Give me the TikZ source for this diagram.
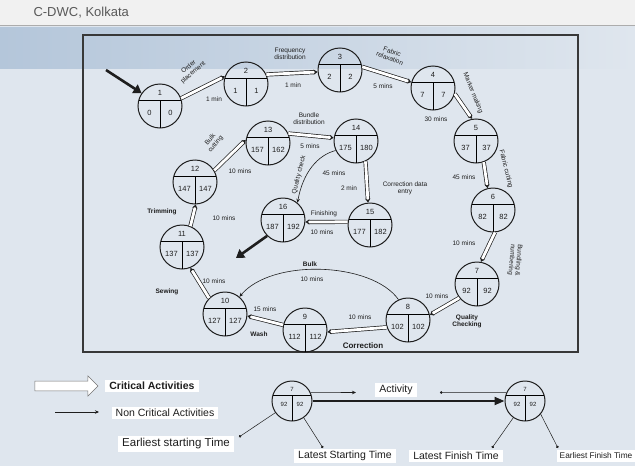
\documentclass[tikz,border=0pt]{standalone}
\usepackage{fontspec}
\setmainfont{Liberation Sans}
\usetikzlibrary{arrows.meta,shapes.arrows}
\definecolor{slidebg}{HTML}{DFE6EE}
\definecolor{bandblue}{HTML}{B4C6DA}
\definecolor{barbg}{HTML}{F1F1F1}
\definecolor{framegray}{HTML}{383838}
\definecolor{ink}{HTML}{1E1E1E}
\tikzset{
  event/.style={circle,draw=ink,line width=1pt,minimum size=44pt,inner sep=0pt},
  crit/.style={draw=ink,line width=0.7pt,double=white,double distance=2.8pt,-{Stealth[length=4pt,width=5pt]}},
  noncrit/.style={draw=ink,line width=0.6pt,-{Stealth[length=4pt,width=3.5pt]}},
  bigarrow/.style={draw=ink,line width=2.6pt,-{Triangle[length=8pt,width=10pt]}},
  num/.style={font=\fontsize{7.5}{8}\selectfont,inner sep=0pt,text=ink},
  dur/.style={font=\fontsize{6.5}{7}\selectfont,inner sep=0.5pt,align=center,text=ink},
  act/.style={font=\fontsize{6.5}{7}\selectfont\bfseries,inner sep=0.5pt,align=center,text=ink},
  tag/.style={fill=white,font=\fontsize{10.5}{12}\selectfont,inner xsep=4pt,inner ysep=2.5pt,text=ink},
  pointer/.style={draw=ink,line width=0.5pt,-{Circle[length=2.6pt]}},
}
\begin{document}
\begin{tikzpicture}[x=1pt,y=-1pt]
\useasboundingbox (0,0) rectangle (635,466);
\fill[slidebg] (0,0) rectangle (635,466);
\shade[left color=bandblue,right color=slidebg] (0,27) rectangle (635,68);
\fill[barbg] (0,0) rectangle (635,25);
\draw[gray!65,line width=1.2pt] (0,25.5) -- (635,25.5);
\node[anchor=west,font=\fontsize{13}{15}\selectfont,text=black!65] (title) at (30,13) {C-DWC, Kolkata};
\draw[framegray,line width=1.6pt] (83,35) rectangle (578,352);

\foreach \n/\px/\py/\es/\ls in {1/160/106/0/0, 2/246/84/1/1, 3/340/70/2/2, 4/433/88/7/7,
    5/476/141/37/37, 6/493/210/82/82, 7/477/284/92/92, 8/408/320/102/102,
    9/305/330/112/112, 10/225/314/127/127, 11/182/247/137/137, 12/195/182/147/147,
    13/268/143/157/162, 14/356/141/175/180, 15/370/225/177/182, 16/283/220/187/192}{
  \node[event] (e\n) at (\px,\py) {};
  \draw[line width=0.8pt] ([shift={(-21.1,-6)}]e\n.center) -- ([shift={(21.1,-6)}]e\n.center);
  \draw[line width=0.8pt] ([shift={(0,-6)}]e\n.center) -- ([shift={(0,22)}]e\n.center);
  \node[num] (i\n) at ([shift={(0,-13.5)}]e\n.center) {\n};
  \node[num] (es\n) at ([shift={(-10.5,6.5)}]e\n.center) {\es};
  \node[num] (ls\n) at ([shift={(10.5,6.5)}]e\n.center) {\ls};
}

\foreach \a/\p/\b/\q in {1/20/2/160, 2/25/3/185, 3/8/4/165, 4/-15/5/100, 5/-70/6/104,
    6/-85/7/80, 7/218/8/13, 8/199/9/-5, 9/167/10/-5, 10/135/11/-68, 11/68/12/-88,
    12/31/13/172, 13/25/14/172, 14/-65/15/95, 15/172/16/-5}
  \draw[crit] (e\a.\p) -- (e\b.\q);

\draw[noncrit] (e8.115) .. controls (372,262) and (272,258) .. (e10.50);
\draw[noncrit] (e14.205) .. controls (318,155) and (303,172) .. (e16.50);

\coordinate (entry) at (106,70);
\draw[bigarrow] (entry) -- (e1.145);
\coordinate (exit) at (236,258);
\draw[bigarrow] (e16.225) -- (exit);

\node[dur,rotate=40] (n12) at (191,70) {Order\\placement};
\node[dur] (t12) at (214,99) {1 min};
\node[dur] (n23) at (290,54) {Frequency\\distribution};
\node[dur] (t23) at (293,85) {1 min};
\node[dur,rotate=-20] (n34) at (391,55) {Fabric\\relaxation};
\node[dur] (t34) at (383,86) {5 mins};
\node[dur,rotate=-68] (n45) at (473,93) {Marker making};
\node[dur] (t45) at (436,119) {30 mins};
\node[dur,rotate=-76] (n56) at (506,169) {Fabric cutting};
\node[dur] (t56) at (464,177) {45 mins};
\node[dur,rotate=-95] (n67) at (515,260) {Bundling \&\\numbering};
\node[dur] (t67) at (464,243) {10 mins};
\node[dur] (t78) at (437,296) {10 mins};
\node[act] (n78) at (467,321) {Quality\\Checking};
\node[dur] (t89) at (360,317) {10 mins};
\node[act,font=\fontsize{8}{9}\selectfont\bfseries] (n89) at (363,346) {Correction};
\node[dur] (t910) at (265,309) {15 mins};
\node[act] (n910) at (259,334) {Wash};
\node[act] (n810) at (310,264) {Bulk};
\node[dur] (t810) at (312,279) {10 mins};
\node[dur] (t1011) at (214,281) {10 mins};
\node[act] (n1011) at (167,292) {Sewing};
\node[dur] (t1112) at (224,218) {10 mins};
\node[act] (n1112) at (162,212) {Trimming};
\node[dur,rotate=50] (n1213) at (213,142) {Bulk\\cutting};
\node[dur] (t1213) at (240,171) {10 mins};
\node[dur] (n1314) at (309,119) {Bundle\\distribution};
\node[dur] (t1314) at (310,146) {5 mins};
\node[dur,rotate=76] (n1316) at (299,175) {Quality check};
\node[dur] (t1416) at (334,173) {45 mins};
\node[dur] (t1415) at (349,188) {2 min};
\node[dur] (n1415) at (405,188) {Correction data\\entry};
\node[dur] (n1516) at (324,214) {Finishing};
\node[dur] (t1516) at (322,232) {10 mins};

\node[single arrow,draw=black!55,fill=white,line width=0.6pt,minimum height=63pt,minimum width=20pt,inner sep=3.5pt,single arrow head extend=4pt] (critkey) at (64,386) {};
\node[tag,font=\fontsize{10.5}{12}\selectfont\bfseries] (critlabel) at (152,386) {Critical Activities};
\coordinate (nckey1) at (55,412);
\coordinate (nckey2) at (99,412);
\draw[noncrit] (nckey1) -- (nckey2);
\node[tag] (nclabel) at (165,413) {Non Critical Activities};

\node[event,minimum size=40pt] (ka) at (292,401) {};
\node[event,minimum size=40pt] (kb) at (525,401) {};
\foreach \k in {ka,kb}{
  \draw[line width=0.8pt] ([shift={(-19.1,-6)}]\k.center) -- ([shift={(19.1,-6)}]\k.center);
  \draw[line width=0.8pt] ([shift={(0,-6)}]\k.center) -- ([shift={(0,20)}]\k.center);
  \node[num,font=\fontsize{6}{7}\selectfont] (\k top) at ([shift={(0,-12)}]\k.center) {7};
  \node[num,font=\fontsize{6}{7}\selectfont] (\k es) at ([shift={(-8,3)}]\k.center) {92};
  \node[num,font=\fontsize{6}{7}\selectfont] (\k ls) at ([shift={(8,3)}]\k.center) {92};
}
\node[tag] (actlabel) at (396,390) {Activity};
\coordinate (acttip) at (356,392.5);
\draw[noncrit] (ka.25) -- (acttip);
\coordinate (actdot) at (440,392.5);
\draw[pointer] (kb.155) -- (actdot);
\draw[draw=ink,line width=2pt,-{Triangle[length=10pt,width=8pt]}] (ka.east) -- (kb.west);

\node[tag,font=\fontsize{11.5}{13}\selectfont] (est) at (176,444) {Earliest starting Time};
\node[tag] (lst) at (345,456) {Latest Starting Time};
\node[tag] (lft) at (456,456) {Latest Finish Time};
\node[tag,font=\fontsize{8.3}{9.5}\selectfont,inner xsep=2.5pt,anchor=east] (eft) at (635,456) {Earliest Finish Time};
\coordinate (estdot) at (239,437);
\draw[pointer] (ka.215) -- (estdot);
\coordinate (lstdot) at (323,448);
\draw[pointer] (ka.-55) -- (lstdot);
\coordinate (lftdot) at (492,448);
\draw[pointer] (kb.235) -- (lftdot);
\coordinate (eftdot) at (558,448);
\draw[pointer] (kb.-40) -- (eftdot);
\end{tikzpicture}
\end{document}
